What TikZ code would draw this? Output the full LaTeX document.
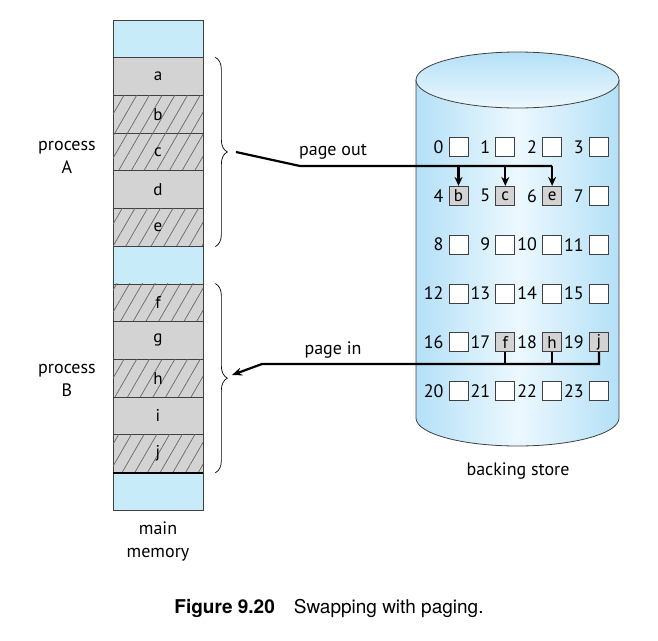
\documentclass[tikz,border=0pt]{standalone}
\usepackage{fontspec}
\setmainfont{PT Sans}
\newfontfamily\capfont{TeX Gyre Heros}
\usetikzlibrary{decorations.pathreplacing,patterns.meta,arrows.meta}
\definecolor{memblue}{RGB}{200,235,250}
\definecolor{pagegray}{RGB}{211,211,211}
\definecolor{storeblue}{RGB}{180,224,247}
\definecolor{storelight}{RGB}{236,248,254}
\tikzset{
	cell/.style={draw=black!75,line width=0.7pt,minimum width=90pt,minimum height=37.7pt,inner sep=0pt,font=\fontsize{17}{20}\selectfont},
	freecell/.style={cell,fill=memblue},
	pagecell/.style={cell,fill=pagegray},
	outcell/.style={pagecell,postaction={pattern={Lines[angle=60,distance=11pt,line width=0.7pt]},pattern color=black!60}},
	slot/.style={draw=black!75,fill=white,line width=0.8pt,minimum size=19pt,inner sep=0pt,font=\fontsize{17}{20}\selectfont},
	fullslot/.style={slot,fill=pagegray},
	slotnum/.style={anchor=east,inner sep=0pt,font=\fontsize{18}{20}\selectfont},
	sidetext/.style={align=center,inner sep=0pt,font=\fontsize{18}{23}\selectfont},
	bracket/.style={decorate,decoration={brace,amplitude=12pt},line width=0.7pt},
	link/.style={line width=2.2pt},
}
\begin{document}
\begin{tikzpicture}[x=1pt,y=1pt]
	\useasboundingbox (0,0) rectangle (658,-640);
	\foreach \name/\kind/\txt [count=\k from 0] in {mt/freecell/,a/pagecell/a,b/outcell/b,c/outcell/c,d/pagecell/d,e/outcell/e,mm/freecell/,f/outcell/f,g/pagecell/g,h/outcell/h,i/pagecell/i,j/outcell/j,mb/freecell/}
		\node[\kind] (\name) at (158,{-20-37.7*(\k+0.5)}) {\txt};
	\draw[link] (j.south west) -- (j.south east);
	\node[sidetext] (procA) at (67,-157) {process\\A};
	\node[sidetext] (procB) at (67,-380) {process\\B};
	\node[sidetext] (mem) at (158,-541) {main\\memory};
	\draw[bracket] ([xshift=12pt]a.north east) -- ([xshift=12pt]e.south east);
	\draw[bracket] ([xshift=12pt]f.north east) -- ([xshift=12pt]j.south east);
	\shade[left color=storeblue,right color=storeblue,middle color=storelight] (416,-80) -- (416,-418) arc[start angle=180,end angle=360,x radius=101.5pt,y radius=28pt] -- (619,-80) -- cycle;
	\draw[black!75,line width=0.8pt] (416,-80) -- (416,-418) arc[start angle=180,end angle=360,x radius=101.5pt,y radius=28pt] -- (619,-80);
	\shade[draw=black!75,line width=0.8pt,top color=storeblue,bottom color=storelight] (517.5,-80) ellipse[x radius=101.5pt,y radius=28pt];
	\node[sidetext] (store) at (518,-471) {backing store};
	\foreach \n/\kind/\txt in {0/slot/,1/slot/,2/slot/,3/slot/,4/fullslot/b,5/fullslot/c,6/fullslot/e,7/slot/,8/slot/,9/slot/,10/slot/,11/slot/,12/slot/,13/slot/,14/slot/,15/slot/,16/slot/,17/fullslot/f,18/fullslot/h,19/fullslot/j,20/slot/,21/slot/,22/slot/,23/slot/}{
		\pgfmathtruncatemacro{\r}{\n/4}
		\pgfmathtruncatemacro{\c}{\n-4*\r}
		\node[\kind] (s\n) at ({458.5+46.8*\c},{-147-48.8*\r}) {\txt};
		\node[slotnum] (n\n) at ([xshift=-5pt]s\n.west) {\n};
	}
	\coordinate (outA) at (236,-152);
	\coordinate (outK) at (300,-166);
	\coordinate (inK) at (262,-364);
	\coordinate (tipB) at (232,-375);
	\draw[link] (outA) -- (outK) -- (outK -| s6);
	\foreach \s in {4,5,6}
		\draw[link,-{Stealth[length=9pt,width=8pt]}] (outK -| s\s) -- (s\s.north);
	\foreach \s in {17,18}
		\draw[link] (s\s.south) -- (s\s.south |- inK);
	\draw[link,-{Stealth[length=10pt,width=8pt]}] (s19.south) -- (s19.south |- inK) -- (inK) -- (tipB);
	\node[sidetext] (pout) at (333,-152) {page out};
	\node[sidetext] (pin) at (333,-350) {page in};
	\node[inner sep=0pt,font=\capfont\fontsize{19}{22}\selectfont] (cap) at (329,-608) {\textbf{Figure 9.20}\quad Swapping with paging.};
\end{tikzpicture}
\end{document}
